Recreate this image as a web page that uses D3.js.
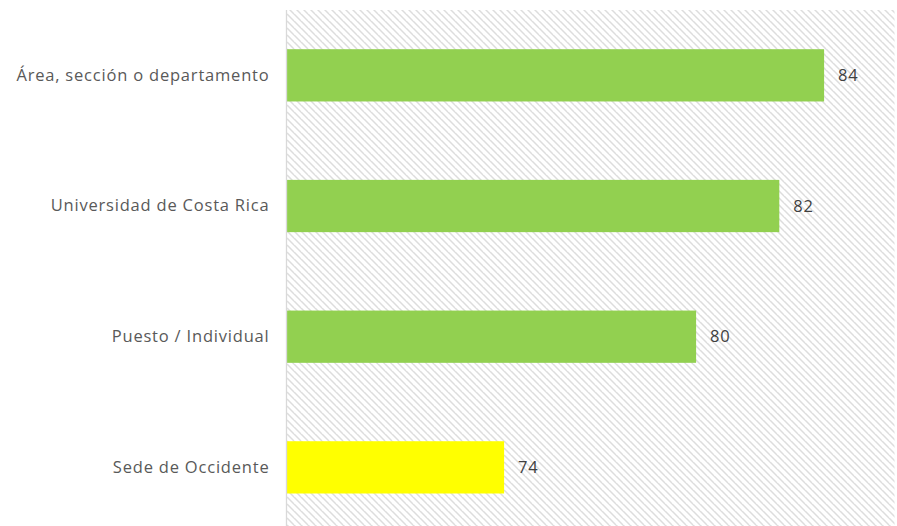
<!DOCTYPE html>
<html>
<head>
<meta charset="utf-8">
<script src="https://cdn.jsdelivr.net/npm/d3@7"></script>
<style>
  html, body { margin: 0; padding: 0; background: #ffffff; }
  svg { display: block; }
</style>
</head>
<body>
<div id="chart"></div>
<script>
// Satisfaction index by level of the organisation
const categories = ["Área, sección o departamento", "Universidad de Costa Rica", "Puesto / Individual", "Sede de Occidente"];
const values = [83.8, 82.4, 79.8, 73.8];
const barColors = ["#92d050", "#92d050", "#92d050", "#ffff00"];
const axisDomain = [67, 86];

const width = 897, height = 526;
const plot = { left: 286.5, right: 894.5, top: 10, bottom: 532.7 };

const svg = d3.select("#chart").append("svg")
  .attr("width", width).attr("height", height);

// diagonal hatch used as the plot-area fill
const defs = svg.append("defs");
const pat = defs.append("pattern")
  .attr("id", "hatch").attr("patternUnits", "userSpaceOnUse")
  .attr("width", 7).attr("height", 7);
pat.append("rect").attr("width", 7).attr("height", 7).attr("fill", "#ffffff");
pat.append("path").attr("d", "M-1,-1 L8,8 M-4,3 L0,7 M3,-4 L11,4")
  .attr("stroke", "#dddddd").attr("stroke-width", 1.5);

const x = d3.scaleLinear().domain(axisDomain).range([plot.left, plot.right]);
const y = d3.scaleBand().domain(categories).range([plot.top, plot.bottom])
  .paddingInner(0.6).paddingOuter(0.3);

svg.append("rect")
  .attr("x", plot.left).attr("y", plot.top)
  .attr("width", plot.right - plot.left).attr("height", plot.bottom - plot.top)
  .attr("fill", "url(#hatch)");

// bars
svg.append("g").selectAll("rect").data(categories).join("rect")
  .attr("x", x(axisDomain[0]))
  .attr("y", d => y(d))
  .attr("width", (d, i) => x(values[i]) - x(axisDomain[0]))
  .attr("height", y.bandwidth())
  .attr("fill", (d, i) => barColors[i]);

// category axis
const yAxis = svg.append("g")
  .attr("transform", `translate(${plot.left},0)`)
  .call(d3.axisLeft(y).tickSize(0).tickPadding(17));
yAxis.select(".domain").attr("stroke", "#d9d9d9").attr("stroke-width", 1.3)
  .attr("d", `M0,${plot.top}V${height}`);
yAxis.selectAll("text")
  .attr("font-family", "'Open Sans', sans-serif")
  .attr("font-size", 16.5)
  .attr("letter-spacing", "0.8px")
  .attr("fill", "#595959");

// value labels
const fmt = d3.format(".0f");
svg.append("g").selectAll("text").data(categories).join("text")
  .attr("x", (d, i) => x(values[i]) + 14)
  .attr("y", d => y(d) + y.bandwidth() / 2)
  .attr("dy", "0.35em")
  .attr("font-family", "'Open Sans', sans-serif")
  .attr("font-size", 16.5)
  .attr("letter-spacing", "0.8px")
  .attr("fill", "#404040")
  .text((d, i) => fmt(values[i]));
</script>
</body>
</html>
